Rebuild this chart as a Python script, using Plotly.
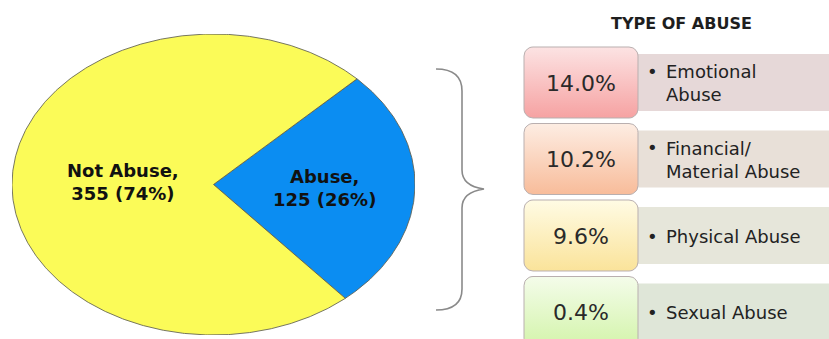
import numpy as np
import plotly.graph_objects as go

W, H = 829, 339

# ---------------- data ----------------
pie_labels = ["Abuse", "Not Abuse"]
pie_counts = [125, 355]
pie_colors = ["#0B8DF2", "#FBFB58"]

abuse_types = ["Emotional<br>Abuse", "Financial/<br>Material Abuse", "Physical Abuse", "Sexual Abuse"]
abuse_pct = [14.0, 10.2, 9.6, 0.4]
panel_title = "TYPE OF ABUSE"

box_top_colors = ["#FCE3E3", "#FDEDE3", "#FFFBE4", "#F4FCEA"]
box_bot_colors = ["#F6A2A2", "#F8BC9A", "#FAE39A", "#D3F4AA"]
rect_colors = ["#E6D8D8", "#E8E0D8", "#E6E6DA", "#DFE6D8"]

# ---------------- styles / geometry ----------------
START_DEG = 44.6          # angle where the first slice starts (counter-clockwise from +x)
LABEL_R = [0.55, 0.45]
BOX_X0, BOX_X1 = 524, 638
BOX_TOP0, BOX_PITCH, BOX_H = 47, 76.5, 71
RECT_INSET = 7
LINE_H = 18 * 1.3

fig = go.Figure()

# ---- pie drawn as filled sectors on a unit-circle axis (stretched into an ellipse) ----
total = sum(pie_counts)
cum = 0.0
for lab, cnt, col, lr in zip(pie_labels, pie_counts, pie_colors, LABEL_R):
    a0 = START_DEG - 360.0 * cum / total
    a1 = a0 - 360.0 * cnt / total
    n = max(int(abs(a1 - a0) * 2), 10)
    ang = np.radians(np.linspace(a0, a1, n))
    xs = np.concatenate([[0], np.cos(ang), [0]])
    ys = np.concatenate([[0], np.sin(ang), [0]])
    fig.add_trace(go.Scatter(x=xs, y=ys, mode="lines", fill="toself", fillcolor=col,
                             line=dict(color="rgba(95,95,80,0.85)", width=1),
                             hoverinfo="skip", showlegend=False, xaxis="x", yaxis="y"))
    mid = np.radians((a0 + a1) / 2)
    pct = round(100 * cnt / total)
    fig.add_annotation(x=lr * np.cos(mid), y=lr * np.sin(mid), xref="x", yref="y",
                       text=f"{lab},<br>{cnt} ({pct}%)", showarrow=False,
                       font=dict(family="DejaVu Sans", size=18, color="#111111", weight="bold"),
                       align="center")
    cum += cnt


def rounded_rect(x0, y0, x1, y1, r, n=8):
    pts = []
    corners = [(x1 - r, y0 + r, -90, 0), (x1 - r, y1 - r, 0, 90),
               (x0 + r, y1 - r, 90, 180), (x0 + r, y0 + r, 180, 270)]
    for cx, cy, t0, t1 in corners:
        t = np.radians(np.linspace(t0, t1, n))
        pts += [(cx + r * np.cos(a), cy + r * np.sin(a)) for a in t]
    pts.append(pts[0])
    return [p[0] for p in pts], [p[1] for p in pts]


shapes = []
for i, (txt, v) in enumerate(zip(abuse_types, abuse_pct)):
    top = BOX_TOP0 + BOX_PITCH * i
    bot = top + BOX_H
    cy = top + 36
    # right text rectangle
    shapes.append(dict(type="rect", xref="x2", yref="y2", x0=BOX_X1 - 2, x1=W + 5,
                       y0=top + RECT_INSET, y1=bot - RECT_INSET, fillcolor=rect_colors[i],
                       line=dict(width=0), layer="below"))
    # rounded gradient box
    bx, by = rounded_rect(BOX_X0, top, BOX_X1, bot, 9)
    fig.add_trace(go.Scatter(x=bx, y=by, mode="lines", fill="toself",
                             fillgradient=dict(type="vertical",
                                               colorscale=[[0, box_top_colors[i]], [1, box_bot_colors[i]]],
                                               start=top, stop=bot),
                             line=dict(color="#B9AFAF", width=1),
                             hoverinfo="skip", showlegend=False, xaxis="x2", yaxis="y2"))
    fig.add_annotation(x=(BOX_X0 + BOX_X1) / 2, y=cy, xref="x2", yref="y2",
                       text=f"{v:.1f}%", showarrow=False,
                       font=dict(family="DejaVu Sans", size=22, color="#2A2A2A"))
    nlines = txt.count("<br>") + 1
    fig.add_annotation(x=652, y=cy - (nlines - 1) * LINE_H / 2, xref="x2", yref="y2",
                       text="•", showarrow=False, xanchor="center",
                       font=dict(family="DejaVu Sans", size=18, color="#222222"))
    fig.add_annotation(x=664, y=cy, xref="x2", yref="y2", text=txt, showarrow=False,
                       xanchor="left", align="left",
                       font=dict(family="DejaVu Sans", size=18, color="#222222"))

# title of the panel
fig.add_annotation(x=681, y=23, xref="x2", yref="y2", text=panel_title, showarrow=False,
                   font=dict(family="DejaVu Sans", size=16, color="#1E1E1E", weight="bold"))

# curly brace
shapes.append(dict(type="path", xref="x2", yref="y2",
                   path="M 436,69 Q 462,69 462,91 L 462,170 Q 462,186 484,189 "
                        "Q 462,192 462,208 L 462,289 Q 462,310 436,310",
                   line=dict(color="#8A8A8A", width=1.6)))

fig.update_layout(
    width=W, height=H, margin=dict(l=0, r=0, t=0, b=0),
    paper_bgcolor="white", plot_bgcolor="rgba(0,0,0,0)",
    shapes=shapes,
    xaxis=dict(domain=[12 / W, 415 / W], range=[-1, 1], visible=False, fixedrange=True),
    yaxis=dict(domain=[(H - 335) / H, (H - 34) / H], range=[-1, 1], visible=False, fixedrange=True),
    xaxis2=dict(domain=[0, 1], range=[0, W], visible=False, fixedrange=True, anchor="y2"),
    yaxis2=dict(domain=[0, 1], range=[H, 0], visible=False, fixedrange=True, anchor="x2"),
    showlegend=False,
)

fig.write_html("out.html")
